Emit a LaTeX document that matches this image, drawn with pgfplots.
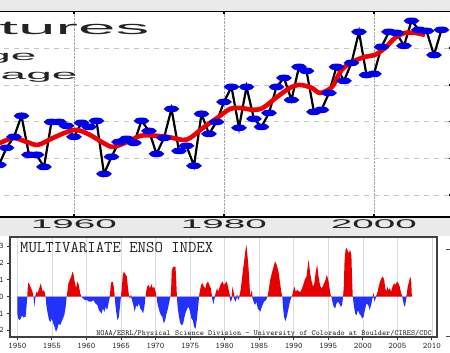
\documentclass[border=0pt]{standalone}
\usepackage{fontspec}
\setmainfont{Liberation Sans}
\usepackage{pgfplots}
\usepackage{pgfplotstable}
\pgfplotsset{compat=1.18}
\definecolor{tred}{RGB}{240,0,0}
\definecolor{tblue}{RGB}{0,0,235}
\definecolor{mred}{RGB}{232,0,0}
\definecolor{mblue}{RGB}{35,50,250}
\definecolor{bg}{RGB}{234,234,234}
\definecolor{txt}{RGB}{35,35,35}

\pgfplotstableread{
yr v
1950 -0.236
1951 -0.143
1952 -0.083
1953 0.031
1954 -0.181
1955 -0.181
1956 -0.247
1957 -0.002
1958 -0.002
1959 -0.023
1960 -0.083
1961 -0.007
1962 -0.029
1963 0.004
1964 -0.285
1965 -0.192
1966 -0.111
1967 -0.094
1968 -0.116
1969 0.004
1970 -0.051
1971 -0.176
1972 -0.089
1973 0.069
1974 -0.160
1975 -0.132
1976 -0.241
1977 0.042
1978 -0.067
1979 -0.002
1980 0.107
1981 0.189
1982 -0.034
1983 0.189
1984 0.015
1985 -0.029
1986 0.047
1987 0.189
1988 0.238
1989 0.118
1990 0.298
1991 0.276
1992 0.053
1993 0.064
1994 0.156
1995 0.298
1996 0.222
1997 0.320
1998 0.489
1999 0.254
2000 0.260
2001 0.407
2002 0.489
2003 0.483
2004 0.413
2005 0.549
2006 0.500
2007 0.494
2008 0.363
2009 0.500
}\temps

\pgfplotstableread{
yr v
1949.0 -0.125
1950.13 -0.116
1951.9 -0.089
1953.7 -0.111
1955.2 -0.127
1957.2 -0.089
1959.1 -0.056
1960.4 -0.045
1962.1 -0.072
1963.9 -0.116
1965.2 -0.138
1967.1 -0.111
1968.8 -0.078
1970.1 -0.075
1972.4 -0.083
1974.5 -0.100
1975.5 -0.089
1977.2 -0.034
1979.1 0.020
1980.8 0.069
1982.1 0.075
1983.9 0.064
1985.2 0.075
1987.1 0.135
1988.8 0.184
1990.1 0.200
1991.7 0.184
1992.8 0.156
1994.4 0.189
1995.7 0.282
1997.1 0.325
1998.8 0.353
2000.1 0.363
2001.5 0.402
2002.8 0.456
2004.1 0.483
2005.5 0.483
2006.8 0.472
}\smoothavg

\pgfplotstableread{
t v
1950.00 -1.0
1950.15 -1.3
1950.30 -1.4
1950.50 -1.3
1950.70 -1.1
1950.85 -1.25
1951.00 -1.2
1951.20 -1.2
1951.35 -0.5
1951.45 0.0
1951.50 0.5
1951.60 0.85
1951.80 0.7
1952.00 0.5
1952.20 0.3
1952.35 0.0
1952.45 -0.6
1952.55 -0.3
1952.65 0.1
1952.80 0.3
1952.95 0.2
1953.10 0.4
1953.25 0.6
1953.40 0.8
1953.55 0.5
1953.70 0.3
1953.85 0.4
1954.00 0.2
1954.10 0.0
1954.20 -0.5
1954.40 -1.0
1954.60 -1.4
1954.80 -1.5
1955.00 -1.3
1955.20 -1.6
1955.40 -1.8
1955.60 -2.1
1955.80 -1.9
1956.00 -1.6
1956.20 -1.7
1956.40 -1.5
1956.60 -1.3
1956.80 -1.1
1957.00 -0.6
1957.15 0.0
1957.25 0.3
1957.40 0.8
1957.60 1.0
1957.80 1.2
1958.00 1.5
1958.15 1.3
1958.30 0.9
1958.50 0.5
1958.70 0.9
1958.90 0.7
1959.10 0.2
1959.30 0.0
1959.50 -0.1
1959.80 -0.2
1960.10 -0.2
1960.40 -0.3
1960.70 -0.3
1961.00 -0.2
1961.30 -0.4
1961.60 -0.5
1961.80 -0.8
1962.00 -0.9
1962.20 -1.0
1962.40 -0.7
1962.60 -0.9
1962.80 -0.6
1963.00 -0.8
1963.20 -0.4
1963.35 -0.1
1963.45 0.3
1963.55 0.8
1963.70 0.9
1963.85 0.85
1964.00 0.5
1964.10 0.0
1964.20 -0.5
1964.35 -1.0
1964.50 -1.4
1964.70 -1.2
1964.85 -0.6
1965.00 0.0
1965.10 0.4
1965.25 1.2
1965.40 1.5
1965.55 1.4
1965.70 1.3
1965.85 1.2
1966.00 0.6
1966.15 0.1
1966.30 -0.1
1966.45 0.1
1966.60 -0.2
1966.80 -0.5
1967.00 -0.9
1967.20 -0.5
1967.40 -0.6
1967.60 -0.4
1967.80 -0.7
1968.00 -0.8
1968.20 -1.0
1968.40 -0.6
1968.55 0.0
1968.65 0.3
1968.80 0.6
1969.00 0.7
1969.20 0.5
1969.40 0.75
1969.60 0.5
1969.80 0.6
1970.00 0.3
1970.15 0.0
1970.25 -0.3
1970.40 -0.6
1970.60 -0.9
1970.80 -1.1
1971.00 -1.2
1971.20 -1.6
1971.40 -1.4
1971.60 -1.0
1971.80 -0.7
1972.00 -0.3
1972.15 0.0
1972.25 0.3
1972.35 1.5
1972.50 1.75
1972.70 1.8
1972.90 1.75
1973.00 1.0
1973.10 0.0
1973.20 -0.6
1973.40 -1.2
1973.60 -1.6
1973.80 -1.7
1974.00 -1.6
1974.20 -1.2
1974.40 -0.9
1974.60 -0.7
1974.80 -0.6
1975.00 -0.9
1975.20 -1.3
1975.40 -1.4
1975.60 -1.8
1975.80 -1.9
1976.00 -1.3
1976.20 -0.5
1976.30 0.0
1976.40 0.3
1976.60 0.7
1976.80 0.8
1977.00 0.6
1977.20 0.5
1977.40 0.8
1977.60 0.9
1977.80 0.7
1978.00 0.5
1978.15 0.1
1978.25 -0.2
1978.40 -0.45
1978.55 -0.1
1978.70 0.2
1978.90 0.5
1979.10 0.3
1979.30 0.6
1979.50 0.8
1979.70 0.9
1979.90 0.7
1980.10 0.8
1980.30 0.9
1980.50 0.6
1980.70 0.2
1980.85 -0.3
1981.00 -0.2
1981.15 0.6
1981.30 0.3
1981.45 -0.2
1981.60 -0.3
1981.80 0.1
1982.00 -0.2
1982.20 0.1
1982.35 0.5
1982.50 1.0
1982.65 1.6
1982.80 2.0
1983.00 2.7
1983.15 3.1
1983.30 2.5
1983.45 1.8
1983.60 0.8
1983.70 0.0
1983.80 0.2
1983.95 0.4
1984.05 -0.1
1984.20 -0.3
1984.40 -0.5
1984.60 -0.3
1984.80 -0.7
1985.00 -0.8
1985.15 -0.9
1985.40 -0.6
1985.70 -0.3
1986.00 -0.2
1986.20 0.0
1986.35 0.3
1986.60 1.0
1986.90 1.5
1987.10 1.8
1987.30 2.1
1987.55 1.9
1987.80 1.5
1988.00 0.9
1988.20 0.3
1988.35 0.0
1988.45 -0.6
1988.60 -1.2
1988.80 -1.45
1989.00 -1.2
1989.20 -0.8
1989.40 -0.4
1989.60 -0.1
1989.75 0.0
1989.90 0.3
1990.10 0.6
1990.30 0.3
1990.50 0.4
1990.80 0.3
1991.00 0.3
1991.30 0.6
1991.60 1.0
1991.85 1.2
1992.00 1.7
1992.15 2.2
1992.35 1.5
1992.60 0.9
1992.80 0.6
1993.00 0.8
1993.20 1.5
1993.40 1.9
1993.60 1.2
1993.80 0.7
1994.00 0.5
1994.20 0.6
1994.40 0.8
1994.60 1.0
1994.80 1.3
1995.00 1.0
1995.20 0.5
1995.35 0.1
1995.45 0.0
1995.60 -0.3
1995.80 -0.6
1996.00 -0.7
1996.20 -0.4
1996.40 -0.3
1996.60 -0.4
1996.80 -0.6
1997.00 -0.5
1997.15 0.0
1997.25 0.6
1997.35 2.0
1997.50 2.8
1997.65 2.9
1997.85 2.7
1998.00 2.6
1998.15 2.8
1998.35 2.5
1998.45 1.0
1998.55 0.0
1998.70 -0.5
1998.90 -1.0
1999.10 -1.1
1999.30 -0.8
1999.50 -1.0
1999.70 -1.1
1999.90 -1.3
2000.10 -1.2
2000.30 -0.8
2000.55 -0.4
2000.80 -0.5
2001.00 -0.8
2001.20 -0.5
2001.40 -0.1
2001.55 0.2
2001.70 -0.3
2001.85 -0.1
2002.00 0.1
2002.15 0.3
2002.30 0.6
2002.50 0.9
2002.70 1.1
2002.90 1.2
2003.10 1.0
2003.25 0.5
2003.40 0.3
2003.55 0.6
2003.70 0.4
2003.90 0.5
2004.10 0.3
2004.30 0.6
2004.55 0.8
2004.75 0.7
2004.95 0.9
2005.15 0.8
2005.35 0.6
2005.55 0.2
2005.70 0.05
2005.80 -0.2
2005.95 -0.5
2006.10 -0.6
2006.25 -0.2
2006.35 0.1
2006.50 0.6
2006.70 0.9
2006.85 1.2
2007.00 1.0
2007.10 0.0
}\mei

\begin{document}
\begin{tikzpicture}[x=1pt,y=1pt]
\clip (0,0) rectangle (450,353);
\fill[white] (0,0) rectangle (450,353);
\fill[bg] (0,341) rectangle (450,353);
\fill[bg] (0,117) rectangle (450,136.5);

% ---------- top: temperatures ----------
\begin{axis}[
  at={(-76pt,136pt)}, anchor=south west, scale only axis,
  width=527pt, height=205.5pt,
  xmin=1940, xmax=2010.27, ymin=-0.52, ymax=0.6,
  axis background/.style={fill=white},
  xtick={1960,1980,2000}, ytick={-0.4,-0.2,0,0.2,0.4},
  yticklabels={},
  /pgf/number format/assume math mode=true,
  /pgf/number format/1000 sep={},
  xticklabel style={font=\fontsize{12.6}{13}\selectfont, text=txt, xscale=3.07, anchor=center, yshift=-7.5pt, inner sep=0pt},
  xmajorgrids, ymajorgrids,
  x grid style={densely dotted, gray!70, line width=0.7pt},
  y grid style={dash pattern=on 5pt off 5pt, gray!45, line width=0.7pt},
  tick align=inside, major tick length=2.5pt,
  tick style={black, line width=1.4pt},
  axis line style={black, line width=1.2pt},
  clip=true,
]
\addplot[black, line width=2.2pt, mark=*, mark size=2.6pt,
  mark options={fill=tblue, draw=tblue, xscale=2.4, yscale=0.85, solid}]
  table[x=yr,y=v]{\temps};
\addplot[tred, line width=4.6pt, smooth] table[x=yr,y=v]{\smoothavg};
\end{axis}

\node[anchor=base east, font=\fontsize{19}{19}\selectfont, text=txt, xscale=3.55, inner sep=0pt] at (150,318) {tures};
\node[anchor=base east, font=\fontsize{13.5}{13.5}\selectfont, text=txt, xscale=3.4, inner sep=0pt] at (37,292.5) {ge};
\node[anchor=base east, font=\fontsize{13.5}{13.5}\selectfont, text=txt, xscale=3.4, inner sep=0pt] at (78,273.5) {age};

% ---------- bottom: MEI ----------
\begin{axis}[
  at={(10pt,16pt)}, anchor=south west, scale only axis,
  width=427pt, height=100pt,
  xmin=1948.944, xmax=2010.74, ymin=-2.399, ymax=3.554,
  axis background/.style={fill=white},
  xtick={1950,1955,...,2010}, ytick={-2,-1,0,1,2,3},
  /pgf/number format/assume math mode=true,
  /pgf/number format/1000 sep={},
  ticklabel style={font=\ttfamily\fontsize{8.5}{9}\selectfont, text=txt},
  xticklabel style={anchor=base, yshift=-8.5pt, inner sep=0pt},
  tick align=outside, tick pos=left, major tick length=3pt,
  tick style={black!80, line width=0.8pt},
  axis line style={black!75, line width=1.3pt},
  xmajorgrids,
  x grid style={gray!30, line width=0.5pt},
]
\addplot[draw=none, fill=mred] table[x=t, y expr={max(\thisrow{v},0)}]{\mei} \closedcycle;
\addplot[draw=none, fill=mblue] table[x=t, y expr={min(\thisrow{v},0)}]{\mei} \closedcycle;
\end{axis}

\node[anchor=west, font=\ttfamily\fontsize{16.3}{16}\selectfont, text=txt, inner sep=0pt] at (20,105) {MULTIVARIATE ENSO INDEX};
\node[anchor=east, font=\ttfamily\fontsize{7.8}{8}\selectfont, text=txt, inner sep=0pt] at (432,19.5) {NOAA/ESRL/Physical Science Division - University of Colorado at Boulder/CIRES/CDC};

\draw[black!70, line width=0.8pt] (446,104) -- (450,104);
\draw[black!70, line width=0.8pt] (446,17) -- (450,17);
\end{tikzpicture}
\end{document}
